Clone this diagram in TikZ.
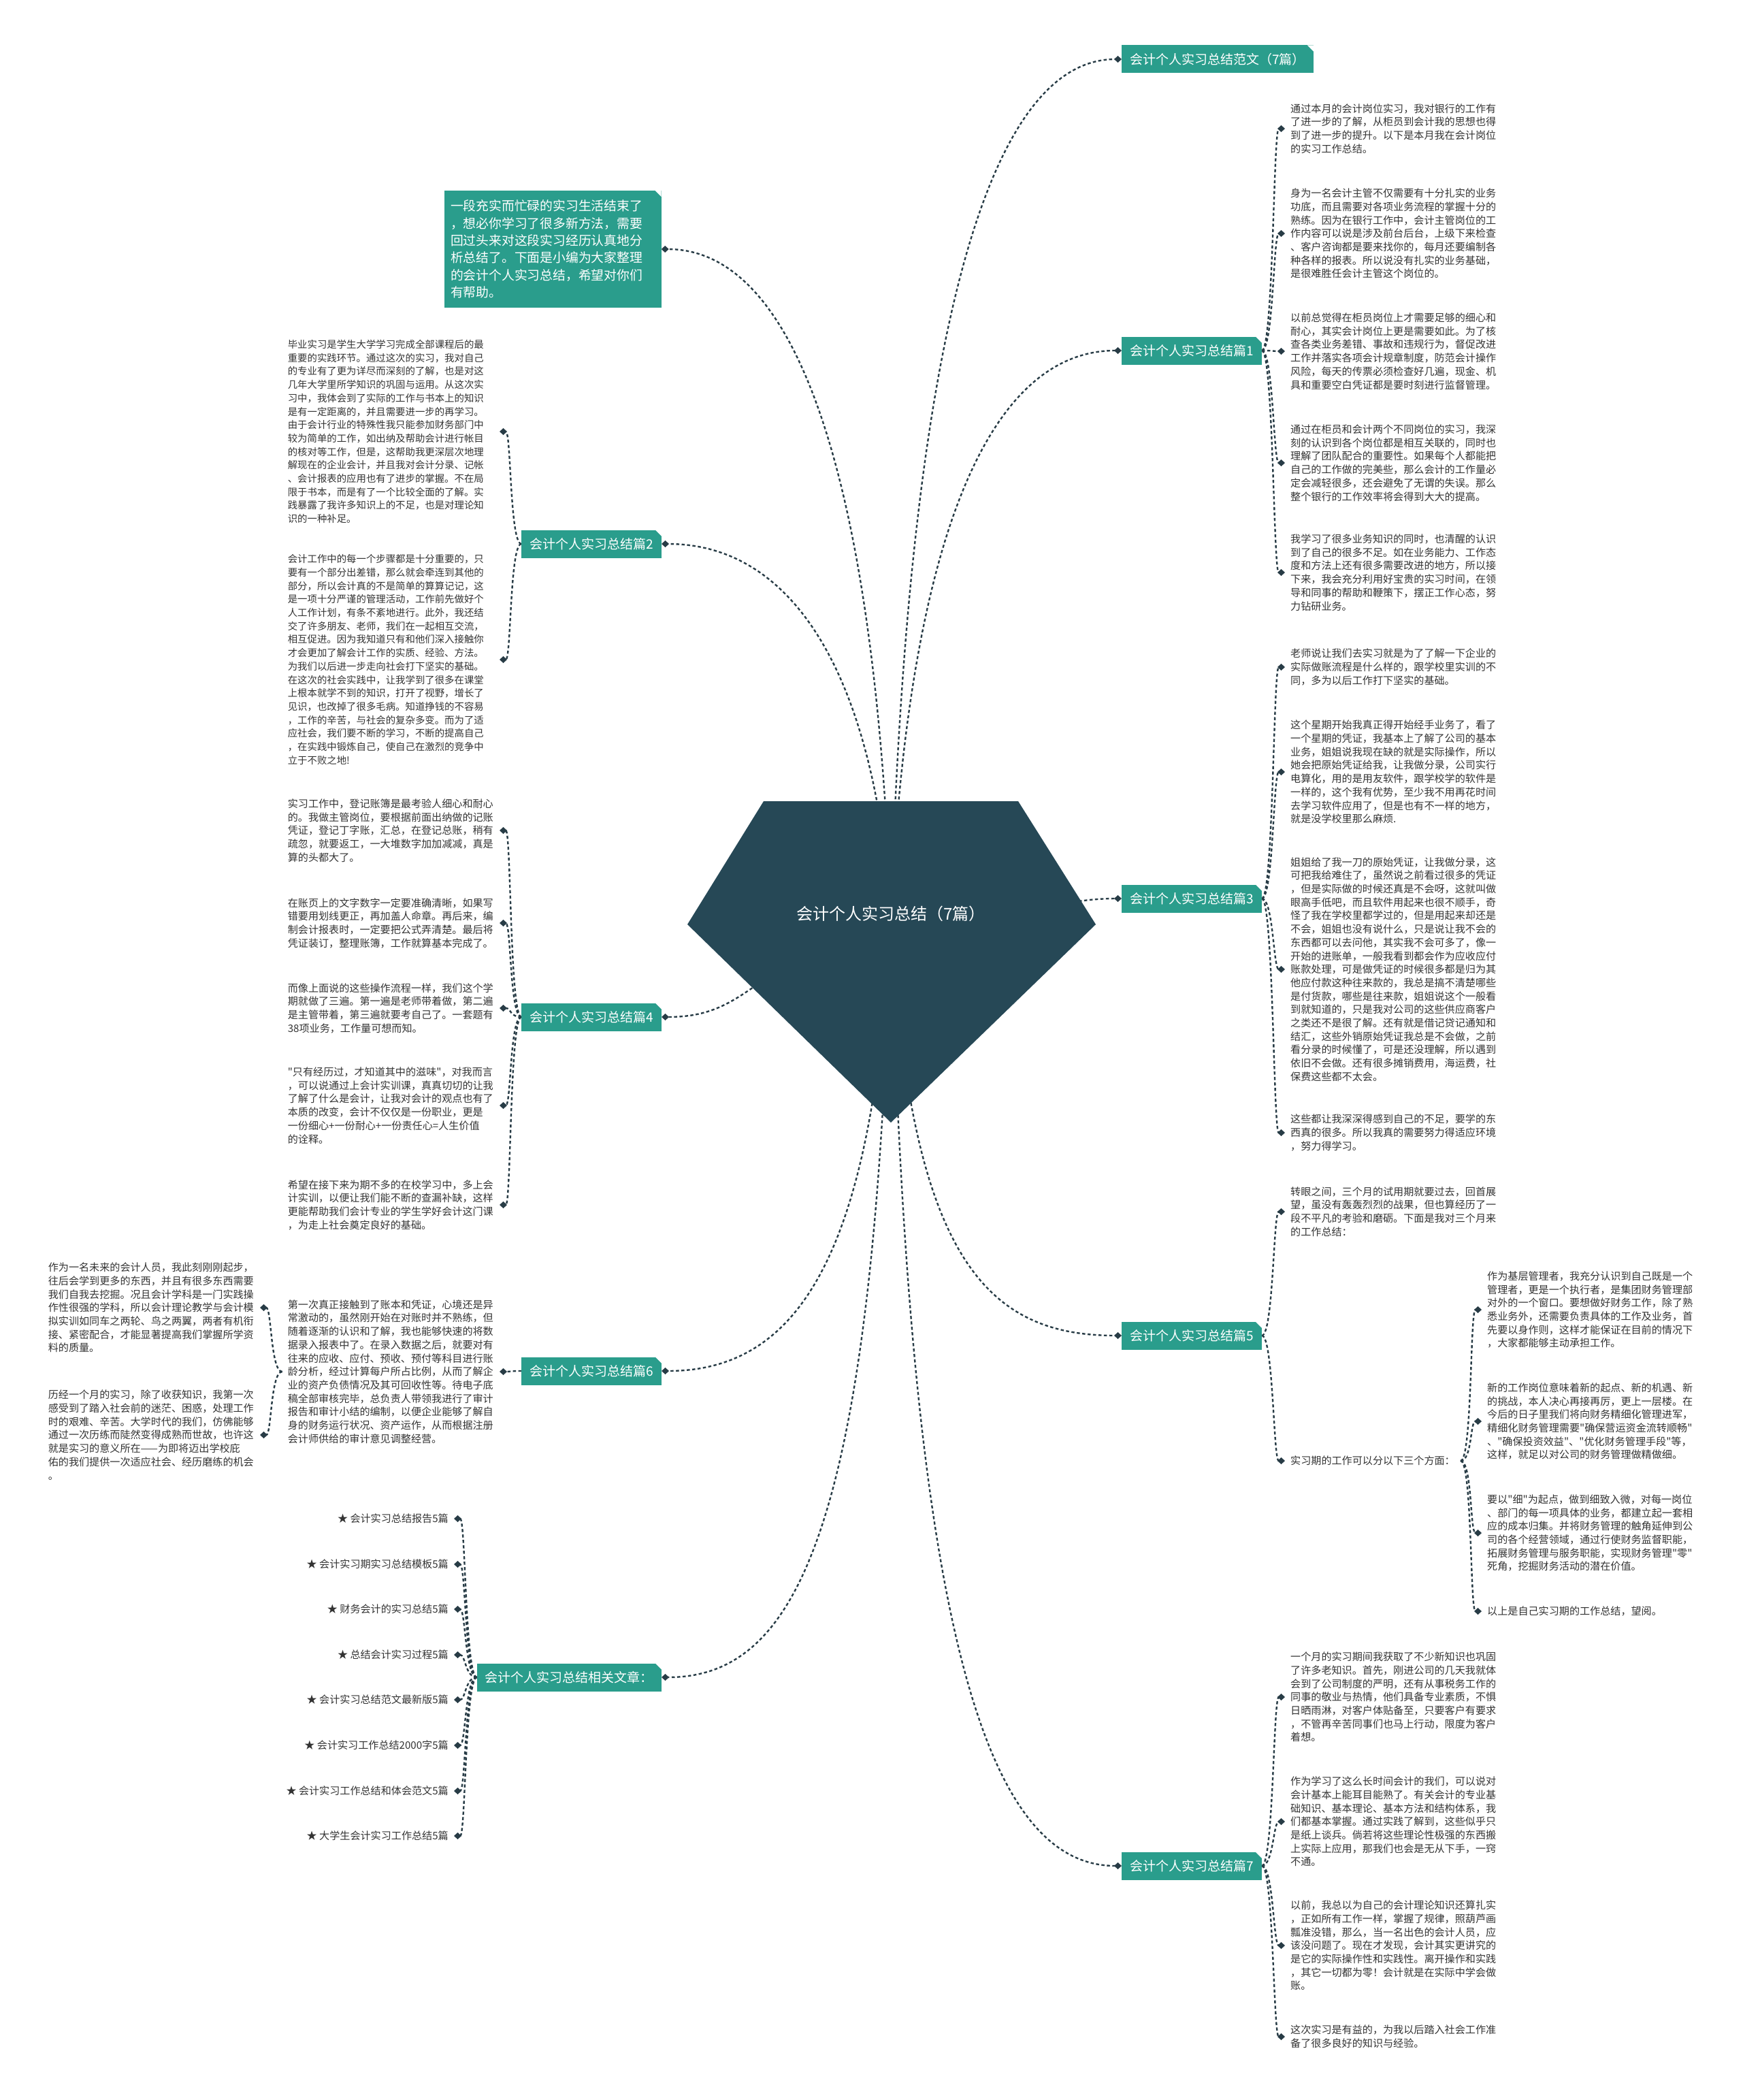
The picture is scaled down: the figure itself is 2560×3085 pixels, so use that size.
\documentclass[tikz,border=0pt]{standalone}
\usepackage{fontspec}
\newfontfamily\cjk{Noto Sans CJK SC}
\usetikzlibrary{arrows.meta,backgrounds}

\definecolor{gemcol}{RGB}{38,72,86}
\definecolor{tealcol}{RGB}{42,157,140}
\definecolor{linkcol}{RGB}{40,60,70}
\definecolor{inkcol}{RGB}{51,51,51}

\newcommand\leaffont{\cjk\fontsize{15.1pt}{19.7pt}\selectfont}
\newcommand\leaffontn{\cjk\fontsize{14.4pt}{19.7pt}\selectfont}
\newcommand\branchfont{\cjk\fontsize{19pt}{23pt}\selectfont}
\newcommand\introfont{\cjk\fontsize{18.8pt}{25.4pt}\selectfont}
\newcommand\rootfont{\cjk\fontsize{24pt}{28pt}\selectfont}

\begin{document}
\begin{tikzpicture}
	[x=1pt, y=-1pt,
		branch/.style	={fill=tealcol, text=white, font=\branchfont,
									inner xsep=12pt, minimum height=41pt,
									path picture={\fill[white] (path picture bounding box.north east)
										-- +(-9pt,0pt) -- +(0pt,-9pt) -- cycle;}},
		intro/.style	={branch, font=\introfont, align=left, text width=300pt,
									inner xsep=9.5pt, minimum height=172pt},
		note/.style		={font=\leaffont, text=inkcol, inner xsep=8pt, inner ysep=0pt},
		leaf/.style		={note, align=left, text width=303pt},
		link/.style		={draw=linkcol, line width=2.4pt, dash pattern=on 4.5pt off 3.5pt,
									-{Diamond[length=11pt,width=10pt]}},
		rconn/.style	={to path={.. controls +(17,0) and +(-17,0) .. (\tikztotarget)}},
		lconn/.style	={to path={.. controls +(-17,0) and +(17,0) .. (\tikztotarget)}}
	]
\useasboundingbox (0,0) rectangle (2560,3085);

% centre
\fill[gemcol] (1122,1177) -- (1496,1177) -- (1610,1358) -- (1309,1649) -- (1010,1358) -- cycle;
\node [font=\rootfont, text=white] (root) at (1309,1342) {会计个人实习总结（7篇）};

% branches, right
\node [branch, anchor=west] (fanwen) at (1648,87)	{会计个人实习总结范文（7篇）};
\node [branch, anchor=west] (pian1) at (1648,515)		{会计个人实习总结篇1};
\node [branch, anchor=west] (pian3) at (1648,1320)	{会计个人实习总结篇3};
\node [branch, anchor=west] (pian5) at (1648,1962)	{会计个人实习总结篇5};
\node [branch, anchor=west] (pian7) at (1648,2741)	{会计个人实习总结篇7};
% branches, left
\node [intro] (intro) at (812,366)
	{一段充实而忙碌的实习生活结束了\\，想必你学习了很多新方法，需要\\回过头来对这段实习经历认真地分\\析总结了。下面是小编为大家整理\\的会计个人实习总结，希望对你们\\有帮助。};
\node [branch, anchor=east] (pian2) at (972,799)		{会计个人实习总结篇2};
\node [branch, anchor=east] (pian4) at (972,1494)		{会计个人实习总结篇4};
\node [branch, anchor=east] (pian6) at (972,2014)		{会计个人实习总结篇6};
\node [branch, anchor=east] (xiangguan) at (972,2464)	{会计个人实习总结相关文章：};

% pian 1
\node [leaf, anchor=west] (p1 a) at (1888,189)
	{通过本月的会计岗位实习，我对银行的工作有\\了进一步的了解，从柜员到会计我的思想也得\\到了进一步的提升。以下是本月我在会计岗位\\的实习工作总结。};
\node [leaf, anchor=west] (p1 b) at (1888,343)
	{身为一名会计主管不仅需要有十分扎实的业务\\功底，而且需要对各项业务流程的掌握十分的\\熟练。因为在银行工作中，会计主管岗位的工\\作内容可以说是涉及前台后台，上级下来检查\\、客户咨询都是要来找你的，每月还要编制各\\种各样的报表。所以说没有扎实的业务基础，\\是很难胜任会计主管这个岗位的。};
\node [leaf, anchor=west] (p1 c) at (1888,516)
	{以前总觉得在柜员岗位上才需要足够的细心和\\耐心，其实会计岗位上更是需要如此。为了核\\查各类业务差错、事故和违规行为，督促改进\\工作并落实各项会计规章制度，防范会计操作\\风险，每天的传票必须检查好几遍，现金、机\\具和重要空白凭证都是要时刻进行监督管理。};
\node [leaf, anchor=west] (p1 d) at (1888,680)
	{通过在柜员和会计两个不同岗位的实习，我深\\刻的认识到各个岗位都是相互关联的，同时也\\理解了团队配合的重要性。如果每个人都能把\\自己的工作做的完美些，那么会计的工作量必\\定会减轻很多，还会避免了无谓的失误。那么\\整个银行的工作效率将会得到大大的提高。};
\node [leaf, anchor=west] (p1 e) at (1888,841)
	{我学习了很多业务知识的同时，也清醒的认识\\到了自己的很多不足。如在业务能力、工作态\\度和方法上还有很多需要改进的地方，所以接\\下来，我会充分利用好宝贵的实习时间，在领\\导和同事的帮助和鞭策下，摆正工作心态，努\\力钻研业务。};

% pian 3
\node [leaf, anchor=west] (p3 a) at (1888,980)
	{老师说让我们去实习就是为了了解一下企业的\\实际做账流程是什么样的，跟学校里实训的不\\同，多为以后工作打下坚实的基础。};
\node [leaf, anchor=west] (p3 b) at (1888,1134)
	{这个星期开始我真正得开始经手业务了，看了\\一个星期的凭证，我基本上了解了公司的基本\\业务，姐姐说我现在缺的就是实际操作，所以\\她会把原始凭证给我，让我做分录，公司实行\\电算化，用的是用友软件，跟学校学的软件是\\一样的，这个我有优势，至少我不用再花时间\\去学习软件应用了，但是也有不一样的地方，\\就是没学校里那么麻烦.};
\node [leaf, anchor=west] (p3 c) at (1888,1424)
	{姐姐给了我一刀的原始凭证，让我做分录，这\\可把我给难住了，虽然说之前看过很多的凭证\\，但是实际做的时候还真是不会呀，这就叫做\\眼高手低吧，而且软件用起来也很不顺手，奇\\怪了我在学校里都学过的，但是用起来却还是\\不会，姐姐也没有说什么，只是说让我不会的\\东西都可以去问他，其实我不会可多了，像一\\开始的进账单，一般我看到都会作为应收应付\\账款处理，可是做凭证的时候很多都是归为其\\他应付款这种往来款的，我总是搞不清楚哪些\\是付货款，哪些是往来款，姐姐说这个一般看\\到就知道的，只是我对公司的这些供应商客户\\之类还不是很了解。还有就是借记贷记通知和\\结汇，这些外销原始凭证我总是不会做，之前\\看分录的时候懂了，可是还没理解，所以遇到\\依旧不会做。还有很多摊销费用，海运费，社\\保费这些都不太会。};
\node [leaf, anchor=west] (p3 d) at (1888,1664)
	{这些都让我深深得感到自己的不足，要学的东\\西真的很多。所以我真的需要努力得适应环境\\，努力得学习。};

% pian 5
\node [leaf, anchor=west] (p5 a) at (1888,1780)
	{转眼之间，三个月的试用期就要过去，回首展\\望，虽没有轰轰烈烈的战果，但也算经历了一\\段不平凡的考验和磨砺。下面是我对三个月来\\的工作总结：};
\node [note, anchor=west] (p5 b) at (1888,2146)	{实习期的工作可以分以下三个方面：};
\node [leaf, anchor=west] (p5 b1) at (2177,1924)
	{作为基层管理者，我充分认识到自己既是一个\\管理者，更是一个执行者，是集团财务管理部\\对外的一个窗口。要想做好财务工作，除了熟\\悉业务外，还需要负责具体的工作及业务，首\\先要以身作则，这样才能保证在目前的情况下\\，大家都能够主动承担工作。};
\node [leaf, anchor=west] (p5 b2) at (2177,2088)
	{新的工作岗位意味着新的起点、新的机遇、新\\的挑战，本人决心再接再厉，更上一层楼。在\\今后的日子里我们将向财务精细化管理进军，\\精细化财务管理需要"确保营运资金流转顺畅"\\、"确保投资效益"、"优化财务管理手段"等，\\这样，就足以对公司的财务管理做精做细。};
\node [leaf, anchor=west] (p5 b3) at (2177,2252)
	{要以"细"为起点，做到细致入微，对每一岗位\\、部门的每一项具体的业务，都建立起一套相\\应的成本归集。并将财务管理的触角延伸到公\\司的各个经营领域，通过行使财务监督职能，\\拓展财务管理与服务职能，实现财务管理"零"\\死角，挖掘财务活动的潜在价值。};
\node [note, anchor=west] (p5 b4) at (2177,2367)	{以上是自己实习期的工作总结，望阅。};

% pian 7
\node [leaf, anchor=west] (p7 a) at (1888,2493)
	{一个月的实习期间我获取了不少新知识也巩固\\了许多老知识。首先，刚进公司的几天我就体\\会到了公司制度的严明，还有从事税务工作的\\同事的敬业与热情，他们具备专业素质，不惧\\日晒雨淋，对客户体贴备至，只要客户有要求\\，不管再辛苦同事们也马上行动，限度为客户\\着想。};
\node [leaf, anchor=west] (p7 b) at (1888,2676)
	{作为学习了这么长时间会计的我们，可以说对\\会计基本上能耳目能熟了。有关会计的专业基\\础知识、基本理论、基本方法和结构体系，我\\们都基本掌握。通过实践了解到，这些似乎只\\是纸上谈兵。倘若将这些理论性极强的东西搬\\上实际上应用，那我们也会是无从下手，一窍\\不通。};
\node [leaf, anchor=west] (p7 c) at (1888,2858)
	{以前，我总以为自己的会计理论知识还算扎实\\，正如所有工作一样，掌握了规律，照葫芦画\\瓢准没错，那么，当一名出色的会计人员，应\\该没问题了。现在才发现，会计其实更讲究的\\是它的实际操作性和实践性。离开操作和实践\\，其它一切都为零！会计就是在实际中学会做\\账。};
\node [leaf, anchor=west] (p7 d) at (1888,2992)
	{这次实习是有益的，为我以后踏入社会工作准\\备了很多良好的知识与经验。};

% pian 2
\node [leaf, font=\leaffontn, anchor=east] (p2 a) at (734,634)
	{毕业实习是学生大学学习完成全部课程后的最\\重要的实践环节。通过这次的实习，我对自己\\的专业有了更为详尽而深刻的了解，也是对这\\几年大学里所学知识的巩固与运用。从这次实\\习中，我体会到了实际的工作与书本上的知识\\是有一定距离的，并且需要进一步的再学习。\\由于会计行业的特殊性我只能参加财务部门中\\较为简单的工作，如出纳及帮助会计进行帐目\\的核对等工作，但是，这帮助我更深层次地理\\解现在的企业会计，并且我对会计分录、记帐\\、会计报表的应用也有了进步的掌握。不在局\\限于书本，而是有了一个比较全面的了解。实\\践暴露了我许多知识上的不足，也是对理论知\\识的一种补足。};
\node [leaf, font=\leaffontn, anchor=east] (p2 b) at (734,969)
	{会计工作中的每一个步骤都是十分重要的，只\\要有一个部分出差错，那么就会牵连到其他的\\部分，所以会计真的不是简单的算算记记，这\\是一项十分严谨的管理活动，工作前先做好个\\人工作计划，有条不紊地进行。此外，我还结\\交了许多朋友、老师，我们在一起相互交流，\\相互促进。因为我知道只有和他们深入接触你\\才会更加了解会计工作的实质、经验、方法。\\为我们以后进一步走向社会打下坚实的基础。\\在这次的社会实践中，让我学到了很多在课堂\\上根本就学不到的知识，打开了视野，增长了\\见识，也改掉了很多毛病。知道挣钱的不容易\\，工作的辛苦，与社会的复杂多变。而为了适\\应社会，我们要不断的学习，不断的提高自己\\，在实践中锻炼自己，使自己在激烈的竞争中\\立于不败之地!};

% pian 4
\node [leaf, anchor=east] (p4 a) at (734,1220)
	{实习工作中，登记账簿是最考验人细心和耐心\\的。我做主管岗位，要根据前面出纳做的记账\\凭证，登记丁字账，汇总，在登记总账，稍有\\疏忽，就要返工，一大堆数字加加减减，真是\\算的头都大了。};
\node [leaf, anchor=east] (p4 b) at (734,1356)
	{在账页上的文字数字一定要准确清晰，如果写\\错要用划线更正，再加盖人命章。再后来，编\\制会计报表时，一定要把公式弄清楚。最后将\\凭证装订，整理账簿，工作就算基本完成了。};
\node [leaf, anchor=east] (p4 c) at (734,1481)
	{而像上面说的这些操作流程一样，我们这个学\\期就做了三遍。第一遍是老师带着做，第二遍\\是主管带着，第三遍就要考自己了。一套题有\\38项业务，工作量可想而知。};
\node [leaf, anchor=east] (p4 d) at (734,1624)
	{"只有经历过，才知道其中的滋味"，对我而言\\，可以说通过上会计实训课，真真切切的让我\\了解了什么是会计，让我对会计的观点也有了\\本质的改变，会计不仅仅是一份职业，更是\\一份细心+一份耐心+一份责任心=人生价值\\的诠释。};
\node [leaf, anchor=east] (p4 e) at (734,1770)
	{希望在接下来为期不多的在校学习中，多上会\\计实训，以便让我们能不断的查漏补缺，这样\\更能帮助我们会计专业的学生学好会计这门课\\，为走上社会奠定良好的基础。};

% pian 6
\node [leaf, anchor=east] (p6 a) at (734,2015)
	{第一次真正接触到了账本和凭证，心境还是异\\常激动的，虽然刚开始在对账时并不熟练，但\\随着逐渐的认识和了解，我也能够快速的将数\\据录入报表中了。在录入数据之后，就要对有\\往来的应收、应付、预收、预付等科目进行账\\龄分析，经过计算每户所占比例，从而了解企\\业的资产负债情况及其可回收性等。待电子底\\稿全部审核完毕，总负责人带领我进行了审计\\报告和审计小结的编制，以便企业能够了解自\\身的财务运行状况、资产运作，从而根据注册\\会计师供给的审计意见调整经营。};
\node [leaf, anchor=east] (p6 a1) at (382,1921)
	{作为一名未来的会计人员，我此刻刚刚起步，\\往后会学到更多的东西，并且有很多东西需要\\我们自我去挖掘。况且会计学科是一门实践操\\作性很强的学科，所以会计理论教学与会计模\\拟实训如同车之两轮、鸟之两翼，两者有机衔\\接、紧密配合，才能显著提高我们掌握所学资\\料的质量。};
\node [leaf, anchor=east] (p6 a2) at (382,2108)
	{历经一个月的实习，除了收获知识，我第一次\\感受到了踏入社会前的迷茫、困惑，处理工作\\时的艰难、辛苦。大学时代的我们，仿佛能够\\通过一次历练而陡然变得成熟而世故，也许这\\就是实习的意义所在——为即将迈出学校庇\\佑的我们提供一次适应社会、经历磨练的机会\\。};

% related articles
\node [note, anchor=east] (rel 1) at (667,2231)	{★ 会计实习总结报告5篇};
\node [note, anchor=east] (rel 2) at (667,2298)	{★ 会计实习期实习总结模板5篇};
\node [note, anchor=east] (rel 3) at (667,2364)	{★ 财务会计的实习总结5篇};
\node [note, anchor=east] (rel 4) at (667,2431)	{★ 总结会计实习过程5篇};
\node [note, anchor=east] (rel 5) at (667,2497)	{★ 会计实习总结范文最新版5篇};
\node [note, anchor=east] (rel 6) at (667,2564)	{★ 会计实习工作总结2000字5篇};
\node [note, anchor=east] (rel 7) at (667,2631)	{★ 会计实习工作总结和体会范文5篇};
\node [note, anchor=east] (rel 8) at (667,2697)	{★ 大学生会计实习工作总结5篇};

\begin{scope}[on background layer, every path/.style=link]
	% centre to branches
	\path (root.center) .. controls (1335,500) and (1450,87) .. (fanwen.west);
	\path (root.center) .. controls (1335,800) and (1450,515) .. (pian1.west);
	\path (root.center) .. controls (1450,1380) and (1520,1320) .. (pian3.west);
	\path (root.center) .. controls (1335,1850) and (1450,1962) .. (pian5.west);
	\path (root.center) .. controls (1335,2400) and (1450,2741) .. (pian7.west);
	\path (root.center) .. controls (1285,700) and (1170,366) .. (intro.east);
	\path (root.center) .. controls (1285,1000) and (1170,799) .. (pian2.east);
	\path (root.center) .. controls (1100,1420) and (1100,1494) .. (pian4.east);
	\path (root.center) .. controls (1285,1850) and (1170,2014) .. (pian6.east);
	\path (root.center) .. controls (1285,2250) and (1170,2464) .. (xiangguan.east);

	% right side
	\path (pian1.east) to[rconn] (p1 a.west);
	\path (pian1.east) to[rconn] (p1 b.west);
	\path (pian1.east) to[rconn] (p1 c.west);
	\path (pian1.east) to[rconn] (p1 d.west);
	\path (pian1.east) to[rconn] (p1 e.west);

	\path (pian3.east) to[rconn] (p3 a.west);
	\path (pian3.east) to[rconn] (p3 b.west);
	\path (pian3.east) to[rconn] (p3 c.west);
	\path (pian3.east) to[rconn] (p3 d.west);

	\path (pian5.east) to[rconn] (p5 a.west);
	\path (pian5.east) to[rconn] (p5 b.west);
	\path (p5 b.east) to[rconn] (p5 b1.west);
	\path (p5 b.east) to[rconn] (p5 b2.west);
	\path (p5 b.east) to[rconn] (p5 b3.west);
	\path (p5 b.east) to[rconn] (p5 b4.west);

	\path (pian7.east) to[rconn] (p7 a.west);
	\path (pian7.east) to[rconn] (p7 b.west);
	\path (pian7.east) to[rconn] (p7 c.west);
	\path (pian7.east) to[rconn] (p7 d.west);

	% left side
	\path (pian2.west) to[lconn] (p2 a.east);
	\path (pian2.west) to[lconn] (p2 b.east);

	\path (pian4.west) to[lconn] (p4 a.east);
	\path (pian4.west) to[lconn] (p4 b.east);
	\path (pian4.west) to[lconn] (p4 c.east);
	\path (pian4.west) to[lconn] (p4 d.east);
	\path (pian4.west) to[lconn] (p4 e.east);

	\path (pian6.west) to[lconn] (p6 a.east);
	\path (p6 a.west) to[lconn] (p6 a1.east);
	\path (p6 a.west) to[lconn] (p6 a2.east);

	\path (xiangguan.west) to[lconn] (rel 1.east);
	\path (xiangguan.west) to[lconn] (rel 2.east);
	\path (xiangguan.west) to[lconn] (rel 3.east);
	\path (xiangguan.west) to[lconn] (rel 4.east);
	\path (xiangguan.west) to[lconn] (rel 5.east);
	\path (xiangguan.west) to[lconn] (rel 6.east);
	\path (xiangguan.west) to[lconn] (rel 7.east);
	\path (xiangguan.west) to[lconn] (rel 8.east);
\end{scope}
\end{tikzpicture}
\end{document}
